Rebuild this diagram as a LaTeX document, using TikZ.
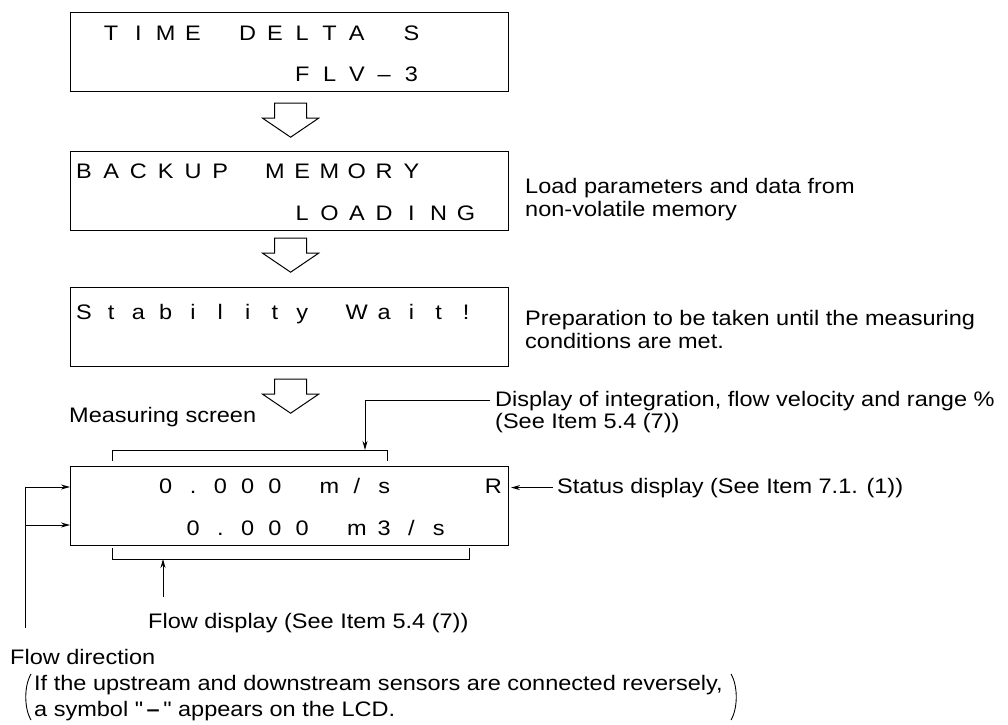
\documentclass[tikz,border=0pt]{standalone}
\usepackage{fontspec}
\setmainfont[FakeStretch=1.12]{Liberation Sans}
\newfontfamily\qf[FakeStretch=1.12]{Liberation Sans}
\usetikzlibrary{arrows.meta,calc}
\newcommand\lc[1]{\makebox[27.3pt][c]{#1}}
\newcommand\harrow[1]{\draw[hollow] #1 ++(-16,0) -- ++(0,15) -- ++(-12,0) -- ++(28,19) -- ++(28,-19) -- ++(-12,0) -- ++(0,-15) -- cycle;}
\begin{document}
\begin{tikzpicture}[x=1pt,y=-1pt,
  font=\fontsize{21}{25}\selectfont,
  lcdbox/.style={draw, line width=1.2pt, minimum width=438pt, minimum height=79pt, anchor=north west, inner sep=0pt},
  txt/.style={anchor=base west, inner sep=0pt},
  conn/.style={line width=0.9pt},
  tip/.style={-{Stealth[length=9pt,width=5pt]}},
  hollow/.style={draw, line width=1pt, fill=white}]
\useasboundingbox (0,0) rectangle (1008,724);

% LCD boxes
\node[lcdbox] (b1) at (70,12) {};
\node[lcdbox] (b2) at (70,151) {};
\node[lcdbox] (b3) at (70,287) {};
\node[lcdbox] (b4) at (70,466) {};

% LCD text
\node[txt] (b1l1) at (70,40) {\lc{}\lc{T}\lc{I}\lc{M}\lc{E}\lc{}\lc{D}\lc{E}\lc{L}\lc{T}\lc{A}\lc{}\lc{S}};
\node[txt] (b1l2) at (70,81) {\lc{}\lc{}\lc{}\lc{}\lc{}\lc{}\lc{}\lc{}\lc{F}\lc{L}\lc{V}\lc{–}\lc{3}};
\node[txt] (b2l1) at (70,178) {\lc{B}\lc{A}\lc{C}\lc{K}\lc{U}\lc{P}\lc{}\lc{M}\lc{E}\lc{M}\lc{O}\lc{R}\lc{Y}};
\node[txt] (b2l2) at (70,220) {\lc{}\lc{}\lc{}\lc{}\lc{}\lc{}\lc{}\lc{}\lc{L}\lc{O}\lc{A}\lc{D}\lc{I}\lc{N}\lc{G}};
\node[txt] (b3l1) at (70,319) {\lc{S}\lc{t}\lc{a}\lc{b}\lc{i}\lc{l}\lc{i}\lc{t}\lc{y}\lc{}\lc{W}\lc{a}\lc{i}\lc{t}\lc{!}};
\node[txt] (b4l1) at (70,493) {\lc{}\lc{}\lc{}\lc{0}\lc{.}\lc{0}\lc{0}\lc{0}\lc{}\lc{m}\lc{/}\lc{s}\lc{}\lc{}\lc{}\lc{R}};
\node[txt] (b4l2) at (70,535) {\lc{}\lc{}\lc{}\lc{}\lc{0}\lc{.}\lc{0}\lc{0}\lc{0}\lc{}\lc{m}\lc{3}\lc{/}\lc{s}};

% hollow arrows
\harrow{($(b1.south)+(1,11)$)}
\harrow{($(b2.south)+(1,7)$)}
\harrow{($(b3.south)+(1,12)$)}

% side texts
\node[txt] (load1) at (525,193) {Load parameters and data from};
\node[txt] (load2) at (525,216) {non-volatile memory};
\node[txt] (prep1) at (525,325) {Preparation to be taken until the measuring};
\node[txt] (prep2) at (525,348) {conditions are met.};
\node[txt] (meas) at (69,422) {Measuring screen};
\node[txt] (disp1) at (495,406) {Display of integration, flow velocity and range \%};
\node[txt] (disp2) at (495,428) {(See Item 5.4 (7))};
\node[txt] (stat) at (557,493) {Status display (See Item 7.1. (1))};
\node[txt] (flowd) at (148,628) {Flow display (See Item 5.4 (7))};
\node[txt] (fdir) at (10,664) {Flow direction};
\node[txt] (par1) at (34,690) {If the upstream and downstream sensors are connected reversely,};
\node[txt] (par2) at (34,716) {a symbol {\qf"}\,\textbf{–}\,{\qf"} appears on the LCD.};

% brackets
\draw[conn] (112,461) -- (112,450) -- (387,450) -- (387,461);
\draw[conn] (112,548) -- (112,559) -- (469,559) -- (469,548);
\coordinate (tb) at (365,450);
\coordinate (bb) at (163,559);
\coordinate (fb) at (163,597);
\coordinate (lb) at (25,628);
\coordinate (in1) at (70,487);
\coordinate (in2) at (70,525);
\coordinate (rt) at (511,486);

% connectors
\draw[conn,tip] ([xshift=-5pt]disp1.west) -| (tb);
\draw[conn,tip] ([xshift=-4pt]stat.west) -- (stat.west -| rt);
\draw[conn,tip] (fb) -- (bb);
\draw[conn,tip] (lb) |- (in1);
\draw[conn,tip] (lb |- in2) -- (in2);

% parentheses
\draw[conn] (31,674) .. controls (24,686) and (24,708) .. (31,720);
\draw[conn] (731,674) .. controls (738,686) and (738,708) .. (731,720);
\end{tikzpicture}
\end{document}
